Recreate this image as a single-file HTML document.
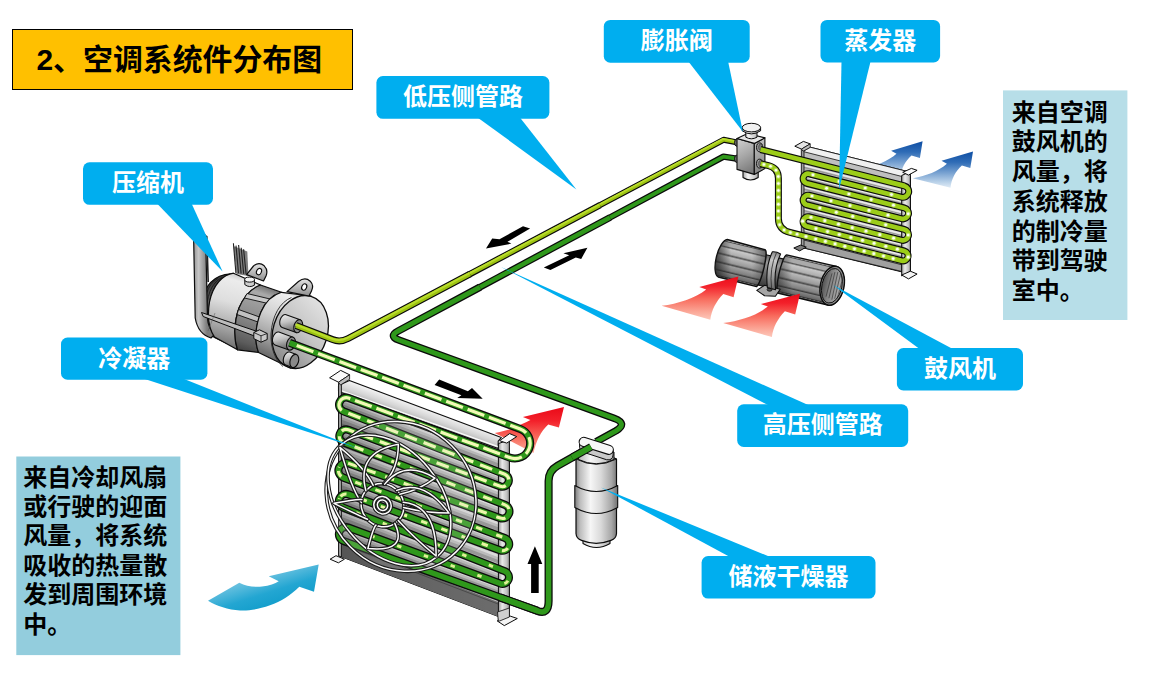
<!DOCTYPE html>
<html lang="zh-CN"><head><meta charset="utf-8"><title>空调系统件分布图</title>
<style>
html,body{margin:0;padding:0;background:#fff}
body{width:1168px;height:675px;position:relative;overflow:hidden;font-family:"Liberation Sans","Noto Sans CJK SC",sans-serif}
svg{position:absolute;left:0;top:0;display:block}
.t{position:absolute;color:#000;font-weight:bold;white-space:nowrap;overflow:hidden;font-family:"Liberation Sans","Noto Sans CJK SC",sans-serif}
</style></head><body>
<svg width="1168" height="675" viewBox="0 0 1168 675" aria-hidden="true"><defs><linearGradient id="cbody" gradientUnits="userSpaceOnUse" x1="338" y1="0" x2="510" y2="0"><stop offset="0" stop-color="#7c7c7c"/><stop offset="0.3" stop-color="#929292"/><stop offset="0.7" stop-color="#b4b4b4"/><stop offset="0.92" stop-color="#c9c9c9"/><stop offset="1" stop-color="#b0b0b0"/></linearGradient><linearGradient id="cshade" gradientUnits="userSpaceOnUse" x1="338" y1="0" x2="500" y2="0"><stop offset="0" stop-color="#000" stop-opacity="0.22"/><stop offset="0.45" stop-color="#000" stop-opacity="0.08"/><stop offset="1" stop-color="#000" stop-opacity="0"/></linearGradient><linearGradient id="chead" gradientUnits="userSpaceOnUse" x1="352" y1="379" x2="347.5" y2="392"><stop offset="0" stop-color="#f6f6f6"/><stop offset="0.55" stop-color="#dadada"/><stop offset="1" stop-color="#b9b9b9"/></linearGradient><linearGradient id="chead2" gradientUnits="userSpaceOnUse" x1="420" y1="406" x2="415.2" y2="419.5"><stop offset="0" stop-color="#f4f4f4"/><stop offset="0.55" stop-color="#d6d6d6"/><stop offset="1" stop-color="#b4b4b4"/></linearGradient><linearGradient id="cpost" gradientUnits="userSpaceOnUse" x1="498" y1="0" x2="510" y2="0"><stop offset="0" stop-color="#8e8e8e"/><stop offset="0.35" stop-color="#e9e9e9"/><stop offset="0.7" stop-color="#c4c4c4"/><stop offset="1" stop-color="#8a8a8a"/></linearGradient><linearGradient id="red1" gradientUnits="userSpaceOnUse" x1="0" y1="407" x2="0" y2="462"><stop offset="0" stop-color="#ea0a18"/><stop offset="0.25" stop-color="#f3202a"/><stop offset="0.55" stop-color="#f86a5c"/><stop offset="0.82" stop-color="#fba898"/><stop offset="1" stop-color="#fdc6b8" stop-opacity="0.9"/></linearGradient><linearGradient id="dashfade" gradientUnits="userSpaceOnUse" x1="0" y1="380" x2="0" y2="600"><stop offset="0" stop-color="#f3fbb8"/><stop offset="0.45" stop-color="#f0f9b0"/><stop offset="0.62" stop-color="#d8ee8c"/><stop offset="0.8" stop-color="#b6dc62"/><stop offset="1" stop-color="#8fc844"/></linearGradient><clipPath id="cd1"><polygon points="280.0,330.0 545.0,330.0 545.0,478.5 280.0,380.4"/></clipPath><clipPath id="cd2"><polygon points="280.0,378.8 545.0,482.2 545.0,510.8 280.0,412.2"/></clipPath><clipPath id="cd3"><polygon points="280.0,410.1 545.0,512.5 545.0,542.1 280.0,446.3"/></clipPath><clipPath id="cd4"><polygon points="280.0,446.1 545.0,545.2 545.0,574.6 280.0,477.0"/></clipPath><clipPath id="cd5"><polygon points="280.0,474.9 545.0,579.2 545.0,607.8 280.0,510.2"/></clipPath><linearGradient id="pul" gradientUnits="userSpaceOnUse" x1="206" y1="285" x2="226" y2="340"><stop offset="0" stop-color="#3c3c3c"/><stop offset="0.5" stop-color="#777"/><stop offset="1" stop-color="#2e2e2e"/></linearGradient><linearGradient id="belt1" gradientUnits="userSpaceOnUse" x1="193" y1="0" x2="207" y2="0"><stop offset="0" stop-color="#8e8e8e"/><stop offset="0.4" stop-color="#c6c6c6"/><stop offset="1" stop-color="#7c7c7c"/></linearGradient><linearGradient id="cfront" gradientUnits="userSpaceOnUse" x1="236" y1="270" x2="214" y2="352"><stop offset="0" stop-color="#b9b9b9"/><stop offset="0.12" stop-color="#ececec"/><stop offset="0.38" stop-color="#dedede"/><stop offset="0.62" stop-color="#b4b4b4"/><stop offset="0.85" stop-color="#7e7e7e"/><stop offset="1" stop-color="#4a4a4a"/></linearGradient><linearGradient id="cmid" gradientUnits="userSpaceOnUse" x1="262" y1="282" x2="238" y2="352"><stop offset="0" stop-color="#5e5e5e"/><stop offset="0.15" stop-color="#a9a9a9"/><stop offset="0.5" stop-color="#8b8b8b"/><stop offset="0.85" stop-color="#5c5c5c"/><stop offset="1" stop-color="#3a3a3a"/></linearGradient><linearGradient id="crear" gradientUnits="userSpaceOnUse" x1="300" y1="290" x2="268" y2="366"><stop offset="0" stop-color="#9c9c9c"/><stop offset="0.12" stop-color="#efefef"/><stop offset="0.4" stop-color="#d2d2d2"/><stop offset="0.7" stop-color="#9c9c9c"/><stop offset="1" stop-color="#4e4e4e"/></linearGradient><linearGradient id="cface" gradientUnits="userSpaceOnUse" x1="318" y1="300" x2="285" y2="362"><stop offset="0" stop-color="#e2e2e2"/><stop offset="0.5" stop-color="#c4c4c4"/><stop offset="1" stop-color="#8e8e8e"/></linearGradient><linearGradient id="lug" gradientUnits="objectBoundingBox" x1="0" y1="0" x2="0" y2="1"><stop offset="0" stop-color="#e4e4e4"/><stop offset="1" stop-color="#8d8d8d"/></linearGradient><linearGradient id="portg" gradientUnits="objectBoundingBox" x1="0" y1="0" x2="0.25" y2="1"><stop offset="0" stop-color="#f0f0f0"/><stop offset="0.45" stop-color="#c4c4c4"/><stop offset="1" stop-color="#6c6c6c"/></linearGradient><linearGradient id="drg" gradientUnits="userSpaceOnUse" x1="575" y1="0" x2="618" y2="0"><stop offset="0" stop-color="#7d7d7d"/><stop offset="0.12" stop-color="#bdbdbd"/><stop offset="0.36" stop-color="#f6f6f6"/><stop offset="0.6" stop-color="#dadada"/><stop offset="0.85" stop-color="#a6a6a6"/><stop offset="1" stop-color="#6e6e6e"/></linearGradient><linearGradient id="vfront" gradientUnits="userSpaceOnUse" x1="737" y1="140" x2="756" y2="172"><stop offset="0" stop-color="#cfcfcf"/><stop offset="0.45" stop-color="#a8a8a8"/><stop offset="1" stop-color="#727272"/></linearGradient><linearGradient id="vside" gradientUnits="userSpaceOnUse" x1="754" y1="140" x2="765" y2="170"><stop offset="0" stop-color="#c2c2c2"/><stop offset="1" stop-color="#858585"/></linearGradient><linearGradient id="vcap" gradientUnits="userSpaceOnUse" x1="741" y1="0" x2="761" y2="0"><stop offset="0" stop-color="#8c8c8c"/><stop offset="0.35" stop-color="#f4f4f4"/><stop offset="0.7" stop-color="#c9c9c9"/><stop offset="1" stop-color="#7a7a7a"/></linearGradient><linearGradient id="ebody" gradientUnits="userSpaceOnUse" x1="802" y1="0" x2="911" y2="0"><stop offset="0" stop-color="#b0b0b0"/><stop offset="0.5" stop-color="#c4c4c4"/><stop offset="0.9" stop-color="#d2d2d2"/><stop offset="1" stop-color="#b2b2b2"/></linearGradient><linearGradient id="epost" gradientUnits="userSpaceOnUse" x1="901" y1="0" x2="911" y2="0"><stop offset="0" stop-color="#8e8e8e"/><stop offset="0.4" stop-color="#ececec"/><stop offset="0.75" stop-color="#c2c2c2"/><stop offset="1" stop-color="#8a8a8a"/></linearGradient><linearGradient id="bneck" gradientUnits="userSpaceOnUse" x1="775" y1="254" x2="768" y2="288"><stop offset="0" stop-color="#5a5a5a"/><stop offset="0.3" stop-color="#9a9a9a"/><stop offset="0.6" stop-color="#6c6c6c"/><stop offset="1" stop-color="#333"/></linearGradient><linearGradient id="bl1" gradientUnits="userSpaceOnUse" x1="741" y1="243" x2="731.8" y2="281"><stop offset="0.002" stop-color="#4e4e4e"/><stop offset="0.0089" stop-color="#9d9d9d"/><stop offset="0.0386" stop-color="#949494"/><stop offset="0.0475" stop-color="#4c4c4c"/><stop offset="0.0515" stop-color="#535353"/><stop offset="0.0745" stop-color="#aaaaaa"/><stop offset="0.1577" stop-color="#aaaaaa"/><stop offset="0.1863" stop-color="#585858"/><stop offset="0.1903" stop-color="#616161"/><stop offset="0.2243" stop-color="#c7c7c7"/><stop offset="0.3446" stop-color="#afafaf"/><stop offset="0.3867" stop-color="#565656"/><stop offset="0.3907" stop-color="#5e5e5e"/><stop offset="0.4288" stop-color="#b8b8b8"/><stop offset="0.5623" stop-color="#9a9a9a"/><stop offset="0.6093" stop-color="#4b4b4b"/><stop offset="0.6133" stop-color="#515151"/><stop offset="0.6473" stop-color="#9e9e9e"/><stop offset="0.7676" stop-color="#808080"/><stop offset="0.8097" stop-color="#3e3e3e"/><stop offset="0.8137" stop-color="#434343"/><stop offset="0.8367" stop-color="#828282"/><stop offset="0.92" stop-color="#6a6a6a"/><stop offset="0.9485" stop-color="#333333"/><stop offset="0.9525" stop-color="#383838"/><stop offset="0.9594" stop-color="#6e6e6e"/><stop offset="0.9891" stop-color="#606060"/><stop offset="0.998" stop-color="#2f2f2f"/></linearGradient><linearGradient id="blend" gradientUnits="userSpaceOnUse" x1="715" y1="0" x2="731" y2="0"><stop offset="0" stop-color="#222" stop-opacity="0.8"/><stop offset="1" stop-color="#222" stop-opacity="0"/></linearGradient><linearGradient id="blend2" gradientUnits="userSpaceOnUse" x1="752" y1="0" x2="767" y2="0"><stop offset="0" stop-color="#222" stop-opacity="0"/><stop offset="1" stop-color="#222" stop-opacity="0.55"/></linearGradient><linearGradient id="bl2" gradientUnits="userSpaceOnUse" x1="806" y1="259" x2="796.8" y2="298"><stop offset="0.002" stop-color="#4e4e4e"/><stop offset="0.0089" stop-color="#9d9d9d"/><stop offset="0.0386" stop-color="#949494"/><stop offset="0.0475" stop-color="#4c4c4c"/><stop offset="0.0515" stop-color="#535353"/><stop offset="0.0745" stop-color="#aaaaaa"/><stop offset="0.1577" stop-color="#aaaaaa"/><stop offset="0.1863" stop-color="#585858"/><stop offset="0.1903" stop-color="#616161"/><stop offset="0.2243" stop-color="#c7c7c7"/><stop offset="0.3446" stop-color="#afafaf"/><stop offset="0.3867" stop-color="#565656"/><stop offset="0.3907" stop-color="#5e5e5e"/><stop offset="0.4288" stop-color="#b8b8b8"/><stop offset="0.5623" stop-color="#9a9a9a"/><stop offset="0.6093" stop-color="#4b4b4b"/><stop offset="0.6133" stop-color="#515151"/><stop offset="0.6473" stop-color="#9e9e9e"/><stop offset="0.7676" stop-color="#808080"/><stop offset="0.8097" stop-color="#3e3e3e"/><stop offset="0.8137" stop-color="#434343"/><stop offset="0.8367" stop-color="#828282"/><stop offset="0.92" stop-color="#6a6a6a"/><stop offset="0.9485" stop-color="#333333"/><stop offset="0.9525" stop-color="#383838"/><stop offset="0.9594" stop-color="#6e6e6e"/><stop offset="0.9891" stop-color="#606060"/><stop offset="0.998" stop-color="#2f2f2f"/></linearGradient><linearGradient id="blend3" gradientUnits="userSpaceOnUse" x1="774" y1="0" x2="792" y2="0"><stop offset="0" stop-color="#222" stop-opacity="0.7"/><stop offset="1" stop-color="#222" stop-opacity="0"/></linearGradient><linearGradient id="bband" gradientUnits="userSpaceOnUse" x1="776" y1="250" x2="768" y2="292"><stop offset="0" stop-color="#7a7a7a"/><stop offset="0.25" stop-color="#c8c8c8"/><stop offset="0.6" stop-color="#9c9c9c"/><stop offset="1" stop-color="#5a5a5a"/></linearGradient><linearGradient id="bopen" gradientUnits="userSpaceOnUse" x1="821" y1="0" x2="843" y2="0"><stop offset="0" stop-color="#4a4a4a"/><stop offset="0.4" stop-color="#858585"/><stop offset="1" stop-color="#b4b4b4"/></linearGradient><linearGradient id="ra1" gradientUnits="userSpaceOnUse" x1="0" y1="276" x2="0" y2="321"><stop offset="0" stop-color="#ea0a18"/><stop offset="0.22" stop-color="#f3202a"/><stop offset="0.5" stop-color="#f86a5c"/><stop offset="0.8" stop-color="#fba898"/><stop offset="1" stop-color="#fdc6b8" stop-opacity="0.9"/></linearGradient><linearGradient id="ra2" gradientUnits="userSpaceOnUse" x1="0" y1="276" x2="0" y2="321"><stop offset="0" stop-color="#ea0a18"/><stop offset="0.22" stop-color="#f3202a"/><stop offset="0.5" stop-color="#f86a5c"/><stop offset="0.8" stop-color="#fba898"/><stop offset="1" stop-color="#fdc6b8" stop-opacity="0.9"/></linearGradient><linearGradient id="ba1" gradientUnits="userSpaceOnUse" x1="0" y1="141" x2="0" y2="178"><stop offset="0" stop-color="#0d4da3"/><stop offset="0.3" stop-color="#2f6cb6"/><stop offset="0.6" stop-color="#7ba4d2"/><stop offset="0.85" stop-color="#bdd4ea"/><stop offset="1" stop-color="#dbe8f4" stop-opacity="0.85"/></linearGradient><linearGradient id="ba2" gradientUnits="userSpaceOnUse" x1="0" y1="141" x2="0" y2="178"><stop offset="0" stop-color="#0d4da3"/><stop offset="0.3" stop-color="#2f6cb6"/><stop offset="0.6" stop-color="#7ba4d2"/><stop offset="0.85" stop-color="#bdd4ea"/><stop offset="1" stop-color="#dbe8f4" stop-opacity="0.85"/></linearGradient><linearGradient id="cy1" gradientUnits="userSpaceOnUse" x1="252" y1="562" x2="268" y2="612"><stop offset="0" stop-color="#b8dfef"/><stop offset="0.3" stop-color="#6cc2e0"/><stop offset="0.65" stop-color="#23a6d2"/><stop offset="1" stop-color="#0e9bc9"/></linearGradient></defs><rect width="1168" height="675" fill="#fff"/>
<polygon points="338.5,384.0 509.0,447.6 509.0,621.0 497.2,616.1 338.5,555.7" fill="url(#cbody)" stroke="#0c0c0c" stroke-width="1" stroke-linejoin="round" />
<polygon points="338.5,541.0 498.0,602.0 498.0,616.4 338.5,555.7" fill="#6c6c6c" stroke="none" stroke-width="0" stroke-linejoin="round" />
<path d="M338.5,543 L498,604" stroke="#444" stroke-width="0.8"/>
<path d="M340,399.8 L499,460.2" stroke="#dcdcdc" stroke-width="3.4"/>
<path d="M340,402.4 L499,462.8" stroke="#bdbdbd" stroke-width="3.4"/>
<path d="M340,405.0 L499,465.4" stroke="#9a9a9a" stroke-width="3.4"/>
<path d="M340,415.7 L499,476.4" stroke="#dcdcdc" stroke-width="3.4"/>
<path d="M340,418.3 L499,479.0" stroke="#bdbdbd" stroke-width="3.4"/>
<path d="M340,420.9 L499,481.6" stroke="#9a9a9a" stroke-width="3.4"/>
<path d="M340,431.3 L499,491.6" stroke="#dcdcdc" stroke-width="3.4"/>
<path d="M340,433.9 L499,494.2" stroke="#bdbdbd" stroke-width="3.4"/>
<path d="M340,436.5 L499,496.8" stroke="#9a9a9a" stroke-width="3.4"/>
<path d="M340,448.1 L499,507.5" stroke="#dcdcdc" stroke-width="3.4"/>
<path d="M340,450.7 L499,510.1" stroke="#bdbdbd" stroke-width="3.4"/>
<path d="M340,453.3 L499,512.7" stroke="#9a9a9a" stroke-width="3.4"/>
<path d="M340,465.7 L499,524.1" stroke="#dcdcdc" stroke-width="3.4"/>
<path d="M340,468.3 L499,526.7" stroke="#bdbdbd" stroke-width="3.4"/>
<path d="M340,470.9 L499,529.3" stroke="#9a9a9a" stroke-width="3.4"/>
<path d="M340,481.2 L499,540.2" stroke="#dcdcdc" stroke-width="3.4"/>
<path d="M340,483.8 L499,542.8" stroke="#bdbdbd" stroke-width="3.4"/>
<path d="M340,486.4 L499,545.4" stroke="#9a9a9a" stroke-width="3.4"/>
<path d="M340,496.2 L499,556.8" stroke="#dcdcdc" stroke-width="3.4"/>
<path d="M340,498.8 L499,559.4" stroke="#bdbdbd" stroke-width="3.4"/>
<path d="M340,501.4 L499,562.0" stroke="#9a9a9a" stroke-width="3.4"/>
<path d="M340,512.8 L499,573.4" stroke="#dcdcdc" stroke-width="3.4"/>
<path d="M340,515.4 L499,576.0" stroke="#bdbdbd" stroke-width="3.4"/>
<path d="M340,518.0 L499,578.6" stroke="#9a9a9a" stroke-width="3.4"/>
<path d="M340,529.5 L499,587.4" stroke="#dcdcdc" stroke-width="3.4"/>
<path d="M340,532.1 L499,590.0" stroke="#bdbdbd" stroke-width="3.4"/>
<path d="M340,534.7 L499,592.6" stroke="#9a9a9a" stroke-width="3.4"/>
<polygon points="338.5,384.0 499.0,443.6 499.0,616.8 338.5,555.7" fill="url(#cshade)" stroke="none" stroke-width="0" stroke-linejoin="round" />
<polygon points="338.5,391.6 338.5,385.6 349.4,380.6 501.3,437.6 498.2,441.2 498.2,448.4" fill="url(#chead2)" stroke="#0c0c0c" stroke-width="1.1" stroke-linejoin="round" />
<path d="M339.5,390.0 L498,446.6" stroke="#fbfbfb" stroke-width="1.3"/>
<polygon points="498.4,443.5 509.4,440.0 509.4,617.0 498.4,621.0" fill="url(#cpost)" stroke="#0c0c0c" stroke-width="1" stroke-linejoin="round" />
<polygon points="338.5,382.0 341.5,383.0 341.5,557.0 338.5,555.7" fill="#9a9a9a" stroke="#0c0c0c" stroke-width="0.8" stroke-linejoin="round" />
<polygon points="330.1,559.2 336.0,555.7 344.4,559.2 338.4,562.8" fill="#f4f4f4" stroke="#0c0c0c" stroke-width="1" stroke-linejoin="round" />
<polygon points="497.2,620.9 510.2,616.1 517.3,618.5 504.3,625.6" fill="#f4f4f4" stroke="#0c0c0c" stroke-width="1" stroke-linejoin="round" />
<polygon points="497.5,612.0 509.4,608.0 509.4,617.0 498.4,621.5" fill="#cfcfcf" stroke="#0c0c0c" stroke-width="0.8" stroke-linejoin="round" />
<polygon points="329.6,377.8 340.7,370.4 349.6,374.8 338.5,382.2" fill="#fafafa" stroke="#0c0c0c" stroke-width="1" stroke-linejoin="round" />
<polygon points="338.5,382.2 349.6,374.8 349.6,379.3 340.5,385.0" fill="#bdbdbd" stroke="#0c0c0c" stroke-width="0.8" stroke-linejoin="round" />
<path d="M494.8,433 C505,431.2 514.5,428.4 521.5,424.3 Q526.5,422.4 530.4,420.1 L522.9,416.9 L564,407.1 L558.9,427.6 L548.2,424.4 C541,431 536,441 533.5,453 Z" fill="url(#red1)" stroke="none" stroke-width="0" stroke-linejoin="round" />
<polygon points="499.6,440.7 509.6,433.6 516.7,436.6 506.7,443.1" fill="#fafafa" stroke="#0c0c0c" stroke-width="1" stroke-linejoin="round" />
<path d="M233.4,246 L247.3,251.5 L248.5,276 L236.5,274 Z" fill="#7e7e7e" stroke="none" stroke-width="0" stroke-linejoin="round" /><path d="M233.4,243.2 L235.9,273.0" stroke="#222" stroke-width="1.1"/><path d="M236.0,245.6 L238.5,273.3" stroke="#222" stroke-width="1.1"/><path d="M238.60000000000002,245.0 L241.10000000000002,273.6" stroke="#222" stroke-width="1.1"/><path d="M241.20000000000002,247.8 L243.70000000000002,273.9" stroke="#222" stroke-width="1.1"/><path d="M243.60000000000002,249.2 L246.10000000000002,274.2" stroke="#222" stroke-width="1.1"/><path d="M231,273.8 C214,274.5 203.5,286 202,304 C201,320 206,332 214.5,337.5 L226,343 L240,300 Z" fill="url(#pul)" stroke="#0c0c0c" stroke-width="1.2" stroke-linejoin="round" /><path d="M227.0,276.0 C215.0,281.0 209.0,295.0 208.6,312.0" fill="none" stroke="#1c1c1c" stroke-width="0.9" stroke-linejoin="round" /><path d="M222.5,277.2 C210.6,283.0 206.4,297.0 206.6,314.0" fill="none" stroke="#1c1c1c" stroke-width="0.9" stroke-linejoin="round" /><path d="M218.0,278.4 C206.2,285.0 203.8,299.0 204.6,316.0" fill="none" stroke="#1c1c1c" stroke-width="0.9" stroke-linejoin="round" /><path d="M193.6,236.5 L205.6,235 L207,296 L207.5,318 Q208,329 215,334 L211,338 Q198,334 195.2,318 Z" fill="url(#belt1)" stroke="#0c0c0c" stroke-width="1.2" stroke-linejoin="round" /><path d="M204.6,236 L206.8,236.5 L208.2,282" fill="none" stroke="#222" stroke-width="1.6" stroke-linejoin="round" /><path d="M233.5,273.2 C223,274.5 213,285 209.5,302 C207.2,316 209,329 214.5,337 L237.5,349.8 C233.5,338 234,322 239,308 C244,296 251,288.5 260.5,285 Z" fill="url(#cfront)" stroke="#0c0c0c" stroke-width="1.2" stroke-linejoin="round" /><path d="M260.5,285 C251,288.5 244,296 239,308 C234,322 233.5,338 237.5,349.8 L258.5,352.5 C254,341 255.5,325 261,312 C266,300.5 272.5,295 281.5,292.3 Z" fill="url(#cmid)" stroke="#0c0c0c" stroke-width="1.2" stroke-linejoin="round" /><path d="M247,293.5 L270,299 L268,303.5 L244.5,298 Z" fill="#c9c9c9" stroke="#0c0c0c" stroke-width="0.9" stroke-linejoin="round" /><path d="M238.5,309.5 L259.5,317 L258,322 L237,314.5 Z" fill="#c2c2c2" stroke="#0c0c0c" stroke-width="0.9" stroke-linejoin="round" /><path d="M281.5,292.3 C272.5,295 266,300.5 261,312 C255.5,325 254,341 258.5,352.5 L291,368.2 L311,296 Z" fill="url(#crear)" stroke="#0c0c0c" stroke-width="1.2" stroke-linejoin="round" /><ellipse cx="300.2" cy="332" rx="27.2" ry="37.2" transform="rotate(17 300.2 332)" fill="url(#cface)" stroke="#0c0c0c" stroke-width="1.3"/><path d="M291.5,297.5 C280,302 272,316 271,334 C270.5,348 275,360 283,366.5" fill="none" stroke="#2a2a2a" stroke-width="0.9"/><path d="M246.6,274.6 L253.5,266 Q259,261.5 264.2,265.8 Q268.4,270 266,276 L263.5,281 Z" fill="url(#lug)" stroke="#0c0c0c" stroke-width="1.2" stroke-linejoin="round" /><ellipse cx="259" cy="271.6" rx="2.4" ry="3.3" transform="rotate(25 259 271.6)" fill="#fff" stroke="#0c0c0c" stroke-width="1.1"/><path d="M287,291.6 L298.5,281.5 Q305,276.5 310.2,281.2 Q314.2,285.5 311.5,291 L309,296 Z" fill="url(#lug)" stroke="#0c0c0c" stroke-width="1.2" stroke-linejoin="round" /><ellipse cx="304.2" cy="287" rx="2.4" ry="3.3" transform="rotate(25 304.2 287)" fill="#fff" stroke="#0c0c0c" stroke-width="1.1"/><path d="M244.8,279.5 L244.8,284.6 Q249.5,288.2 254.4,285.2 L254.4,280 Z" fill="#cfcfcf" stroke="#0c0c0c" stroke-width="1" stroke-linejoin="round" /><ellipse cx="249.6" cy="279.6" rx="4.9" ry="2.5" fill="#f3f3f3" stroke="#0c0c0c" stroke-width="1"/><path d="M201.5,312.5 L203.2,316.5 L254.5,336 L255.8,331 Z" fill="#bdbdbd" stroke="#0c0c0c" stroke-width="1" stroke-linejoin="round" /><path d="M253.8,332.5 L259.5,329.8 L267.2,333.5 L267.2,339.5 L261,342.2 L253.8,338.6 Z" fill="#c9c9c9" stroke="#0c0c0c" stroke-width="1" stroke-linejoin="round" /><path d="M253.8,332.5 L261,335.8 L267.2,333.5 M261,335.8 L261,342.2" fill="none" stroke="#0c0c0c" stroke-width="0.8" stroke-linejoin="round" /><path d="M215,313 L208,331" fill="none" stroke="#555" stroke-width="0.5" stroke-linejoin="round" />
<path d="M286.1,314.7 L300.2,319.8 L296.2,332.6 L282.1,327.5 A4.2,6.7 17 0 1 286.1,314.7 Z" fill="url(#portg)" stroke="#0c0c0c" stroke-width="1.1" stroke-linejoin="round" /><ellipse cx="298.2" cy="326.2" rx="4.2" ry="6.7" transform="rotate(17 298.2 326.2)" fill="#8a8a8a" stroke="#0c0c0c" stroke-width="1.1"/><path d="M278.9,332.1 L293.0,337.2 L289.0,350.0 L274.9,344.9 A4.2,6.7 17 0 1 278.9,332.1 Z" fill="url(#portg)" stroke="#0c0c0c" stroke-width="1.1" stroke-linejoin="round" /><ellipse cx="291" cy="343.6" rx="4.2" ry="6.7" transform="rotate(17 291 343.6)" fill="#8a8a8a" stroke="#0c0c0c" stroke-width="1.1"/><path d="M289.8,352.1 L296.3,354.5 L292.3,367.5 L285.7,365.1 A4.2,6.8 17 0 1 289.8,352.1 Z" fill="url(#portg)" stroke="#0c0c0c" stroke-width="1.1" stroke-linejoin="round" /><ellipse cx="294.3" cy="361" rx="4.2" ry="6.8" transform="rotate(17 294.3 361)" fill="#8a8a8a" stroke="#0c0c0c" stroke-width="1.1"/>
<path d="M500,597.35 L537,610.67 Q548.6,615.49 548.6,601 L548.6,481 Q548.6,470.8 557.5,465.8 L590,447.5" fill="none" stroke="#0c0c0c" stroke-width="8.1" stroke-linejoin="round"/>
<path d="M289.6,342.8 L520.20,428.94 A15.26,15.26 0 0 1 509.58,457.56 L348.54,397.98 A7.15,7.15 0 0 0 343.46,411.34 L504.89,474.34 A6.43,6.43 0 0 1 500.31,486.35 L348.40,429.83 A6.78,6.78 0 0 0 343.60,442.51 L505.07,504.89 A7.05,7.05 0 0 1 500.13,518.09 L348.62,463.34 A7.60,7.60 0 0 0 343.38,477.61 L504.90,537.97 A6.60,6.60 0 0 1 500.30,550.35 L348.53,494.42 A7.10,7.10 0 0 0 343.47,507.69 L504.94,571.27 A6.57,6.57 0 0 1 500.26,583.54 L348.44,527.59 A7.14,7.14 0 0 0 343.56,541.01 L538,611.03" fill="none" stroke="#0c0c0c" stroke-width="8.1" stroke-linejoin="round"/>
<path d="M500,597.35 L537,610.67 Q548.6,615.49 548.6,601 L548.6,481 Q548.6,470.8 557.5,465.8 L590,447.5" fill="none" stroke="#2f981b" stroke-width="5.5" stroke-linejoin="round"/>
<path d="M289.6,342.8 L520.20,428.94 A15.26,15.26 0 0 1 509.58,457.56 L348.54,397.98 A7.15,7.15 0 0 0 343.46,411.34 L504.89,474.34 A6.43,6.43 0 0 1 500.31,486.35 L348.40,429.83 A6.78,6.78 0 0 0 343.60,442.51 L505.07,504.89 A7.05,7.05 0 0 1 500.13,518.09 L348.62,463.34 A7.60,7.60 0 0 0 343.38,477.61 L504.90,537.97 A6.60,6.60 0 0 1 500.30,550.35 L348.53,494.42 A7.10,7.10 0 0 0 343.47,507.69 L504.94,571.27 A6.57,6.57 0 0 1 500.26,583.54 L348.44,527.59 A7.14,7.14 0 0 0 343.56,541.01 L538,611.03" fill="none" stroke="#2f981b" stroke-width="5.5" stroke-linejoin="round"/>
<path d="M296.7,345.44 L520.20,428.94 A15.26,15.26 0 0 1 509.58,457.56 L348.54,397.98 A7.15,7.15 0 0 0 343.46,411.34 L504.89,474.34 A6.43,6.43 0 0 1 500.31,486.35 L348.40,429.83 A6.78,6.78 0 0 0 343.60,442.51 L505.07,504.89 A7.05,7.05 0 0 1 500.13,518.09 L348.62,463.34 A7.60,7.60 0 0 0 343.38,477.61 L504.90,537.97 A6.60,6.60 0 0 1 500.30,550.35 L348.53,494.42 A7.10,7.10 0 0 0 343.47,507.69 L504.94,571.27 A6.57,6.57 0 0 1 500.26,583.54 L348.44,527.59 A7.14,7.14 0 0 0 343.56,541.01 L538,611.03" fill="none" stroke="#f2fab6" stroke-width="3.2" stroke-dasharray="17.8 5" clip-path="url(#cd1)"/>
<path d="M296.7,345.44 L520.20,428.94 A15.26,15.26 0 0 1 509.58,457.56 L348.54,397.98 A7.15,7.15 0 0 0 343.46,411.34 L504.89,474.34 A6.43,6.43 0 0 1 500.31,486.35 L348.40,429.83 A6.78,6.78 0 0 0 343.60,442.51 L505.07,504.89 A7.05,7.05 0 0 1 500.13,518.09 L348.62,463.34 A7.60,7.60 0 0 0 343.38,477.61 L504.90,537.97 A6.60,6.60 0 0 1 500.30,550.35 L348.53,494.42 A7.10,7.10 0 0 0 343.47,507.69 L504.94,571.27 A6.57,6.57 0 0 1 500.26,583.54 L348.44,527.59 A7.14,7.14 0 0 0 343.56,541.01 L538,611.03" fill="none" stroke="#f0f9b2" stroke-width="3.2" stroke-dasharray="13 7.2" clip-path="url(#cd2)"/>
<path d="M296.7,345.44 L520.20,428.94 A15.26,15.26 0 0 1 509.58,457.56 L348.54,397.98 A7.15,7.15 0 0 0 343.46,411.34 L504.89,474.34 A6.43,6.43 0 0 1 500.31,486.35 L348.40,429.83 A6.78,6.78 0 0 0 343.60,442.51 L505.07,504.89 A7.05,7.05 0 0 1 500.13,518.09 L348.62,463.34 A7.60,7.60 0 0 0 343.38,477.61 L504.90,537.97 A6.60,6.60 0 0 1 500.30,550.35 L348.53,494.42 A7.10,7.10 0 0 0 343.47,507.69 L504.94,571.27 A6.57,6.57 0 0 1 500.26,583.54 L348.44,527.59 A7.14,7.14 0 0 0 343.56,541.01 L538,611.03" fill="none" stroke="#ecf7ac" stroke-width="3.1" stroke-dasharray="9.5 10.2" clip-path="url(#cd3)"/>
<path d="M296.7,345.44 L520.20,428.94 A15.26,15.26 0 0 1 509.58,457.56 L348.54,397.98 A7.15,7.15 0 0 0 343.46,411.34 L504.89,474.34 A6.43,6.43 0 0 1 500.31,486.35 L348.40,429.83 A6.78,6.78 0 0 0 343.60,442.51 L505.07,504.89 A7.05,7.05 0 0 1 500.13,518.09 L348.62,463.34 A7.60,7.60 0 0 0 343.38,477.61 L504.90,537.97 A6.60,6.60 0 0 1 500.30,550.35 L348.53,494.42 A7.10,7.10 0 0 0 343.47,507.69 L504.94,571.27 A6.57,6.57 0 0 1 500.26,583.54 L348.44,527.59 A7.14,7.14 0 0 0 343.56,541.01 L538,611.03" fill="none" stroke="#e6f5a2" stroke-width="3.0" stroke-dasharray="6.5 15" clip-path="url(#cd4)"/>
<path d="M296.7,345.44 L520.20,428.94 A15.26,15.26 0 0 1 509.58,457.56 L348.54,397.98 A7.15,7.15 0 0 0 343.46,411.34 L504.89,474.34 A6.43,6.43 0 0 1 500.31,486.35 L348.40,429.83 A6.78,6.78 0 0 0 343.60,442.51 L505.07,504.89 A7.05,7.05 0 0 1 500.13,518.09 L348.62,463.34 A7.60,7.60 0 0 0 343.38,477.61 L504.90,537.97 A6.60,6.60 0 0 1 500.30,550.35 L348.53,494.42 A7.10,7.10 0 0 0 343.47,507.69 L504.94,571.27 A6.57,6.57 0 0 1 500.26,583.54 L348.44,527.59 A7.14,7.14 0 0 0 343.56,541.01 L538,611.03" fill="none" stroke="#dff296" stroke-width="2.9" stroke-dasharray="4.5 24" clip-path="url(#cd5)"/>
<path d="M456.33,551.63 A78.1,71.6 45 1 1 345.87,441.17 A78.1,71.6 45 1 1 456.33,551.63 Z M436.77,556.86 A73.7,50.7 50 1 1 342.03,443.94 A73.7,50.7 50 1 1 436.77,556.86 Z" fill="#d8d8d8" fill-opacity="0.16" fill-rule="evenodd"/>
<path d="M456.33,551.63 A78.1,71.6 45 1 1 345.87,441.17 A78.1,71.6 45 1 1 456.33,551.63 Z" fill="none" stroke="#1c1c1c" stroke-width="3.7" stroke-linecap="round" stroke-linejoin="round" /><path d="M456.33,551.63 A78.1,71.6 45 1 1 345.87,441.17 A78.1,71.6 45 1 1 456.33,551.63 Z" fill="none" stroke="#fdfdfd" stroke-width="1.5" stroke-linecap="round" stroke-linejoin="round" />
<path d="M436.77,556.86 A73.7,50.7 50 1 1 342.03,443.94 A73.7,50.7 50 1 1 436.77,556.86 Z" fill="none" stroke="#1c1c1c" stroke-width="3.7" stroke-linecap="round" stroke-linejoin="round" /><path d="M436.77,556.86 A73.7,50.7 50 1 1 342.03,443.94 A73.7,50.7 50 1 1 436.77,556.86 Z" fill="none" stroke="#fdfdfd" stroke-width="1.5" stroke-linecap="round" stroke-linejoin="round" />
<path d="M396.64,522.05 A22,20.5 50 1 1 368.36,488.35 A22,20.5 50 1 1 396.64,522.05 Z" fill="none" stroke="#1c1c1c" stroke-width="3.7" stroke-linecap="round" stroke-linejoin="round" /><path d="M396.64,522.05 A22,20.5 50 1 1 368.36,488.35 A22,20.5 50 1 1 396.64,522.05 Z" fill="none" stroke="#fdfdfd" stroke-width="1.5" stroke-linecap="round" stroke-linejoin="round" />
<path d="M388.29,512.09 A9,8.4 50 1 1 376.71,498.31 A9,8.4 50 1 1 388.29,512.09 Z" fill="none" stroke="#1c1c1c" stroke-width="3.7" stroke-linecap="round" stroke-linejoin="round" /><path d="M388.29,512.09 A9,8.4 50 1 1 376.71,498.31 A9,8.4 50 1 1 388.29,512.09 Z" fill="none" stroke="#fdfdfd" stroke-width="1.5" stroke-linecap="round" stroke-linejoin="round" />
<path d="M385.97,509.34 A5.4,5 50 1 1 379.03,501.06 A5.4,5 50 1 1 385.97,509.34 Z" fill="none" stroke="#1c1c1c" stroke-width="3.7" stroke-linecap="round" stroke-linejoin="round" /><path d="M385.97,509.34 A5.4,5 50 1 1 379.03,501.06 A5.4,5 50 1 1 385.97,509.34 Z" fill="none" stroke="#fdfdfd" stroke-width="1.5" stroke-linecap="round" stroke-linejoin="round" />
<path d="M361.4,502.6 Q351.5,488.9 339.9,447.4 Q365.1,468.1 373.2,485.4" fill="none" stroke="#1c1c1c" stroke-width="3.7" stroke-linecap="round" stroke-linejoin="round" /><path d="M361.4,502.6 Q351.5,488.9 339.9,447.4 Q365.1,468.1 373.2,485.4" fill="none" stroke="#fdfdfd" stroke-width="1.5" stroke-linecap="round" stroke-linejoin="round" />
<path d="M365.9,490.8 Q355.7,452.3 398.3,444.3 Q398.6,468.4 383.6,484.0" fill="none" stroke="#1c1c1c" stroke-width="3.7" stroke-linecap="round" stroke-linejoin="round" /><path d="M365.9,490.8 Q355.7,452.3 398.3,444.3 Q398.6,468.4 383.6,484.0" fill="none" stroke="#fdfdfd" stroke-width="1.5" stroke-linecap="round" stroke-linejoin="round" />
<path d="M384.7,484.1 Q404.3,459.5 435.0,478.1 Q419.2,490.1 399.9,494.3" fill="none" stroke="#1c1c1c" stroke-width="3.7" stroke-linecap="round" stroke-linejoin="round" /><path d="M384.7,484.1 Q404.3,459.5 435.0,478.1 Q419.2,490.1 399.9,494.3" fill="none" stroke="#fdfdfd" stroke-width="1.5" stroke-linecap="round" stroke-linejoin="round" />
<path d="M396.7,490.4 Q424.0,478.8 449.0,513.1 Q426.1,513.1 403.6,507.4" fill="none" stroke="#1c1c1c" stroke-width="3.7" stroke-linecap="round" stroke-linejoin="round" /><path d="M396.7,490.4 Q424.0,478.8 449.0,513.1 Q426.1,513.1 403.6,507.4" fill="none" stroke="#fdfdfd" stroke-width="1.5" stroke-linecap="round" stroke-linejoin="round" />
<path d="M403.2,502.3 Q436.7,505.4 436.1,556.0 Q413.3,537.2 398.3,520.5" fill="none" stroke="#1c1c1c" stroke-width="3.7" stroke-linecap="round" stroke-linejoin="round" /><path d="M403.2,502.3 Q436.7,505.4 436.1,556.0 Q413.3,537.2 398.3,520.5" fill="none" stroke="#fdfdfd" stroke-width="1.5" stroke-linecap="round" stroke-linejoin="round" />
<path d="M394.8,523.4 Q408.4,552.5 367.9,548.5 Q373.3,527.2 376.0,525.1" fill="none" stroke="#1c1c1c" stroke-width="3.7" stroke-linecap="round" stroke-linejoin="round" /><path d="M394.8,523.4 Q408.4,552.5 367.9,548.5 Q373.3,527.2 376.0,525.1" fill="none" stroke="#fdfdfd" stroke-width="1.5" stroke-linecap="round" stroke-linejoin="round" />
<path d="M367.5,519.2 Q362.9,517.6 334.0,503.3 Q357.3,498.7 361.8,499.6" fill="none" stroke="#1c1c1c" stroke-width="3.7" stroke-linecap="round" stroke-linejoin="round" /><path d="M367.5,519.2 Q362.9,517.6 334.0,503.3 Q357.3,498.7 361.8,499.6" fill="none" stroke="#fdfdfd" stroke-width="1.5" stroke-linecap="round" stroke-linejoin="round" />
<path d="M599,205.72 L723.5,139.8 L738,142.6" fill="none" stroke="#0a0a0a" stroke-width="6.0" stroke-linejoin="round" stroke-linecap="butt"/><path d="M599,205.72 L723.5,139.8 L738,142.6" fill="none" stroke="#9cc312" stroke-width="3.6" stroke-linejoin="round" stroke-linecap="butt"/><path d="M599,205.72 L723.5,139.8 L738,142.6" fill="none" stroke="#b9dc2c" stroke-width="1.80" transform="translate(-0.45,-0.9)" stroke-linejoin="round"/>
<path d="M469,274.54 L600,205.19" fill="none" stroke="#0a0a0a" stroke-width="6.5" stroke-linejoin="round" stroke-linecap="butt"/><path d="M469,274.54 L600,205.19" fill="none" stroke="#9cc312" stroke-width="4.1" stroke-linejoin="round" stroke-linecap="butt"/><path d="M469,274.54 L600,205.19" fill="none" stroke="#b9dc2c" stroke-width="1.95" transform="translate(-0.45,-0.9)" stroke-linejoin="round"/>
<path d="M296,325.5 L332.6,339.6 Q340.3,342.7 348.2,338.5 L470,274.01" fill="none" stroke="#0a0a0a" stroke-width="7.0" stroke-linejoin="round" stroke-linecap="butt"/><path d="M296,325.5 L332.6,339.6 Q340.3,342.7 348.2,338.5 L470,274.01" fill="none" stroke="#9cc312" stroke-width="4.6" stroke-linejoin="round" stroke-linecap="butt"/><path d="M296,325.5 L332.6,339.6 Q340.3,342.7 348.2,338.5 L470,274.01" fill="none" stroke="#b9dc2c" stroke-width="2.10" transform="translate(-0.45,-0.9)" stroke-linejoin="round"/>
<path d="M738,158.8 L723.5,156.6 L609,217.99" fill="none" stroke="#0a0a0a" stroke-width="6.3" stroke-linejoin="round" stroke-linecap="butt"/><path d="M738,158.8 L723.5,156.6 L609,217.99" fill="none" stroke="#2f981b" stroke-width="3.9" stroke-linejoin="round" stroke-linecap="butt"/>
<path d="M610,217.45 L479,287.68" fill="none" stroke="#0a0a0a" stroke-width="6.9" stroke-linejoin="round" stroke-linecap="butt"/><path d="M610,217.45 L479,287.68" fill="none" stroke="#2f981b" stroke-width="4.4" stroke-linejoin="round" stroke-linecap="butt"/>
<path d="M480,287.15 L398.2,331 Q388.4,336.3 398.8,340 L614,418.2 Q628,423.4 616,430.8 L596,441.8" fill="none" stroke="#0a0a0a" stroke-width="7.5" stroke-linejoin="round" stroke-linecap="butt"/><path d="M480,287.15 L398.2,331 Q388.4,336.3 398.8,340 L614,418.2 Q628,423.4 616,430.8 L596,441.8" fill="none" stroke="#2f981b" stroke-width="4.9" stroke-linejoin="round" stroke-linecap="butt"/>
<path d="M583,538 L583,543.5 Q596.5,551.5 610,543.5 L610,538 Z" fill="url(#drg)" stroke="#0c0c0c" stroke-width="1.1" stroke-linejoin="round" /><path d="M576,459 L576,533.5 Q576.3,538.6 581.5,540.4 Q596.2,546.2 611,540.4 Q616.2,538.6 616.5,533.5 L616.5,459 Q596.2,449 576,459 Z" fill="url(#drg)" stroke="#0c0c0c" stroke-width="1.2" stroke-linejoin="round" /><path d="M574.8,485.5 Q596.2,497.5 617.7,485.5 L617.7,507.5 Q596.2,519.5 574.8,507.5 Z" fill="url(#drg)" stroke="#0c0c0c" stroke-width="1.1" stroke-linejoin="round" /><path d="M578.5,452 L578.5,459.5 Q596.2,468 614,459.5 L614,452 Z" fill="url(#drg)" stroke="#0c0c0c" stroke-width="1.0" stroke-linejoin="round" /><path d="M576,459 Q596.2,469.5 616.5,459" fill="none" stroke="#0c0c0c" stroke-width="0.9" stroke-linejoin="round" />
<path d="M579.6,443.2 L579.6,447.2 Q580,451 584.5,452.6 L606.5,459.7 Q612.5,460.8 613.1,455 L613.1,450.5 Z" fill="#c9c9c9" stroke="#0c0c0c" stroke-width="1.0" stroke-linejoin="round" /><path d="M583.7,441.9 L608.8,449.8" stroke="#0c0c0c" stroke-width="10.2" stroke-linecap="round"/><path d="M583.7,441.9 L608.8,449.8" stroke="#f7f7f7" stroke-width="8" stroke-linecap="round"/>
<path d="M591,446.9 L572,457.6" fill="none" stroke="#0a0a0a" stroke-width="7.7" stroke-linejoin="round" stroke-linecap="butt"/><path d="M591,446.9 L572,457.6" fill="none" stroke="#2f981b" stroke-width="5.7" stroke-linejoin="round" stroke-linecap="butt"/>
<path d="M743,171 L743,177.5 Q750.5,182.5 758.2,177.5 L758.2,171 Z" fill="url(#vcap)" stroke="#0c0c0c" stroke-width="1.1" stroke-linejoin="round" /><ellipse cx="736.6" cy="142.6" rx="2" ry="3.6" fill="#777" stroke="#0c0c0c" stroke-width="1"/><ellipse cx="736.6" cy="158.8" rx="2" ry="3.6" fill="#777" stroke="#0c0c0c" stroke-width="1"/><polygon points="737.0,138.5 754.3,143.4 754.3,174.4 737.0,169.4" fill="url(#vfront)" stroke="#0c0c0c" stroke-width="1.1" stroke-linejoin="round" /><polygon points="754.3,143.4 764.9,137.8 764.9,168.6 754.3,174.4" fill="url(#vside)" stroke="#0c0c0c" stroke-width="1.1" stroke-linejoin="round" /><polygon points="737.0,138.5 747.6,133.5 764.9,137.8 754.3,143.4" fill="#e6e6e6" stroke="#0c0c0c" stroke-width="1.1" stroke-linejoin="round" /><path d="M745.8,130 L745.8,137.2 Q751.4,140.4 757,137.2 L757,130 Z" fill="url(#vcap)" stroke="#0c0c0c" stroke-width="1.0" stroke-linejoin="round" /><path d="M742.2,127.5 L742.2,130.8 Q751.4,137 760.6,130.8 L760.6,127.5 Z" fill="url(#vcap)" stroke="#0c0c0c" stroke-width="1.0" stroke-linejoin="round" /><ellipse cx="751.4" cy="127.6" rx="9.2" ry="4.3" fill="#f1f1f1" stroke="#0c0c0c" stroke-width="1"/><ellipse cx="759.6" cy="147.3" rx="3.0" ry="4.4" fill="#a6a6a6" stroke="#0c0c0c" stroke-width="1"/><ellipse cx="760.6" cy="147.3" rx="2.0" ry="3.3" fill="#7a7a7a" stroke="#333" stroke-width="0.6"/><ellipse cx="759.6" cy="163.6" rx="3.0" ry="4.4" fill="#a6a6a6" stroke="#0c0c0c" stroke-width="1"/><ellipse cx="760.6" cy="163.6" rx="2.0" ry="3.3" fill="#7a7a7a" stroke="#333" stroke-width="0.6"/>
<path d="M862.4,168.1 C876,166 888,161 896.5,153.7 L891.1,150.7 L922.6,141.3 L919.9,157.9 L911.5,155.5 C905,161.5 901,169 900.1,177.6 Z" transform="translate(0 0)" fill="url(#ba1)"/>
<path d="M862.4,168.1 C876,166 888,161 896.5,153.7 L891.1,150.7 L922.6,141.3 L919.9,157.9 L911.5,155.5 C905,161.5 901,169 900.1,177.6 Z" transform="translate(50.4 10.1)" fill="url(#ba2)"/>
<polygon points="802.0,150.5 910.4,176.5 910.4,274.0 802.0,247.5" fill="url(#ebody)" stroke="#0c0c0c" stroke-width="1" stroke-linejoin="round" /><path d="M803,165.3 L902,190.4" stroke="#ececec" stroke-width="1.4"/><path d="M803,167.2 L902,192.3" stroke="#8c8c8c" stroke-width="0.9"/><path d="M803,176.4 L902,201.4" stroke="#ececec" stroke-width="1.4"/><path d="M803,178.3 L902,203.3" stroke="#8c8c8c" stroke-width="0.9"/><path d="M803,187.1 L902,212.2" stroke="#ececec" stroke-width="1.4"/><path d="M803,189.0 L902,214.1" stroke="#8c8c8c" stroke-width="0.9"/><path d="M803,197.9 L902,222.9" stroke="#ececec" stroke-width="1.4"/><path d="M803,199.8 L902,224.8" stroke="#8c8c8c" stroke-width="0.9"/><path d="M803,208.6 L902,233.7" stroke="#ececec" stroke-width="1.4"/><path d="M803,210.5 L902,235.6" stroke="#8c8c8c" stroke-width="0.9"/><path d="M803,219.4 L902,244.4" stroke="#ececec" stroke-width="1.4"/><path d="M803,221.3 L902,246.3" stroke="#8c8c8c" stroke-width="0.9"/><path d="M803,229.6 L902,254.7" stroke="#ececec" stroke-width="1.4"/><path d="M803,231.5 L902,256.6" stroke="#8c8c8c" stroke-width="0.9"/><polygon points="802.0,239.5 902.0,264.8 902.0,271.5 802.0,247.5" fill="#a0a0a0" stroke="#0c0c0c" stroke-width="0.8" stroke-linejoin="round" /><polygon points="803.0,151.5 810.2,147.2 908.8,171.8 902.0,176.5 902.0,183.6 803.0,158.6" fill="#bfbfbf" stroke="#0c0c0c" stroke-width="0.9" stroke-linejoin="round" /><polygon points="803.0,151.5 810.2,147.2 908.8,171.8 902.0,176.5" fill="#f0f0f0" stroke="#0c0c0c" stroke-width="0.8" stroke-linejoin="round" /><polygon points="901.7,175.5 910.4,171.5 910.4,271.5 901.7,276.0" fill="url(#epost)" stroke="#0c0c0c" stroke-width="1" stroke-linejoin="round" /><polygon points="801.3,149.0 804.0,150.0 804.0,248.5 801.3,247.5" fill="#9c9c9c" stroke="#0c0c0c" stroke-width="0.8" stroke-linejoin="round" /><polygon points="794.8,146.2 803.4,141.4 810.2,143.9 801.5,149.1" fill="#e4e4e4" stroke="#0c0c0c" stroke-width="1" stroke-linejoin="round" /><polygon points="801.5,149.1 810.2,143.9 810.2,147.4 803.0,151.2" fill="#bdbdbd" stroke="#0c0c0c" stroke-width="0.8" stroke-linejoin="round" /><polygon points="902.7,172.3 911.4,168.4 917.1,170.3 908.5,175.1" fill="#fafafa" stroke="#0c0c0c" stroke-width="1" stroke-linejoin="round" /><polygon points="793.8,248.0 800.6,245.1 806.3,247.1 799.6,250.9" fill="#7c7c7c" stroke="#0c0c0c" stroke-width="1" stroke-linejoin="round" /><polygon points="901.7,275.0 910.4,271.2 917.1,274.0 908.5,278.9" fill="#f4f4f4" stroke="#0c0c0c" stroke-width="1" stroke-linejoin="round" />
<path d="M760.5,149.49 L904.43,185.90 A5.82,5.82 0 0 1 901.57,197.18 L809.00,173.76 A4.90,4.90 0 0 0 806.60,183.25 L904.36,207.98 A5.53,5.53 0 0 1 901.64,218.70 L809.00,195.26 A4.90,4.90 0 0 0 806.60,204.75 L904.36,229.48 A5.53,5.53 0 0 1 901.64,240.20 L809.00,216.76 A4.90,4.90 0 0 0 806.60,226.25 L904.24,250.95 A5.04,5.04 0 0 1 901.76,260.73 L790,232.45 Q778.4,229.52 778.4,218.5 L778.4,178.5 Q778.4,168 768.5,165.6 L760.5,163.7" fill="none" stroke="#0c0c0c" stroke-width="7.0" stroke-linejoin="round"/>
<path d="M760.5,149.49 L904.43,185.90 A5.82,5.82 0 0 1 901.57,197.18 L809.00,173.76 A4.90,4.90 0 0 0 806.60,183.25 L904.36,207.98 A5.53,5.53 0 0 1 901.64,218.70 L809.00,195.26 A4.90,4.90 0 0 0 806.60,204.75 L904.36,229.48 A5.53,5.53 0 0 1 901.64,240.20 L809.00,216.76 A4.90,4.90 0 0 0 806.60,226.25 L904.24,250.95 A5.04,5.04 0 0 1 901.76,260.73 L790,232.45 Q778.4,229.52 778.4,218.5 L778.4,178.5 Q778.4,168 768.5,165.6 L760.5,163.7" fill="none" stroke="#9ccd19" stroke-width="4.7" stroke-linejoin="round"/>
<circle cx="813.0" cy="174.8" r="2.35" fill="#d9f3a0" opacity="0.55"/><circle cx="813.0" cy="174.8" r="1.35" fill="#fcfff4"/><circle cx="839.2" cy="181.4" r="2.35" fill="#d9f3a0" opacity="0.55"/><circle cx="839.2" cy="181.4" r="1.35" fill="#fcfff4"/><circle cx="865.3" cy="188.0" r="2.35" fill="#d9f3a0" opacity="0.55"/><circle cx="865.3" cy="188.0" r="1.35" fill="#fcfff4"/><circle cx="891.5" cy="194.6" r="2.35" fill="#d9f3a0" opacity="0.55"/><circle cx="891.5" cy="194.6" r="1.35" fill="#fcfff4"/><circle cx="826.6" cy="188.3" r="2.35" fill="#d9f3a0" opacity="0.55"/><circle cx="826.6" cy="188.3" r="1.35" fill="#fcfff4"/><circle cx="848.9" cy="194.0" r="2.35" fill="#d9f3a0" opacity="0.55"/><circle cx="848.9" cy="194.0" r="1.35" fill="#fcfff4"/><circle cx="871.2" cy="199.6" r="2.35" fill="#d9f3a0" opacity="0.55"/><circle cx="871.2" cy="199.6" r="1.35" fill="#fcfff4"/><circle cx="893.5" cy="205.2" r="2.35" fill="#d9f3a0" opacity="0.55"/><circle cx="893.5" cy="205.2" r="1.35" fill="#fcfff4"/><circle cx="812.0" cy="196.0" r="2.35" fill="#d9f3a0" opacity="0.55"/><circle cx="812.0" cy="196.0" r="1.35" fill="#fcfff4"/><circle cx="831.0" cy="200.8" r="2.35" fill="#d9f3a0" opacity="0.55"/><circle cx="831.0" cy="200.8" r="1.35" fill="#fcfff4"/><circle cx="850.0" cy="205.6" r="2.35" fill="#d9f3a0" opacity="0.55"/><circle cx="850.0" cy="205.6" r="1.35" fill="#fcfff4"/><circle cx="869.0" cy="210.4" r="2.35" fill="#d9f3a0" opacity="0.55"/><circle cx="869.0" cy="210.4" r="1.35" fill="#fcfff4"/><circle cx="888.0" cy="215.2" r="2.35" fill="#d9f3a0" opacity="0.55"/><circle cx="888.0" cy="215.2" r="1.35" fill="#fcfff4"/><circle cx="819.8" cy="208.1" r="2.35" fill="#d9f3a0" opacity="0.55"/><circle cx="819.8" cy="208.1" r="1.35" fill="#fcfff4"/><circle cx="836.3" cy="212.3" r="2.35" fill="#d9f3a0" opacity="0.55"/><circle cx="836.3" cy="212.3" r="1.35" fill="#fcfff4"/><circle cx="852.7" cy="216.4" r="2.35" fill="#d9f3a0" opacity="0.55"/><circle cx="852.7" cy="216.4" r="1.35" fill="#fcfff4"/><circle cx="869.2" cy="220.6" r="2.35" fill="#d9f3a0" opacity="0.55"/><circle cx="869.2" cy="220.6" r="1.35" fill="#fcfff4"/><circle cx="885.7" cy="224.8" r="2.35" fill="#d9f3a0" opacity="0.55"/><circle cx="885.7" cy="224.8" r="1.35" fill="#fcfff4"/><circle cx="811.0" cy="217.3" r="2.35" fill="#d9f3a0" opacity="0.55"/><circle cx="811.0" cy="217.3" r="1.35" fill="#fcfff4"/><circle cx="824.8" cy="220.7" r="2.35" fill="#d9f3a0" opacity="0.55"/><circle cx="824.8" cy="220.7" r="1.35" fill="#fcfff4"/><circle cx="838.5" cy="224.2" r="2.35" fill="#d9f3a0" opacity="0.55"/><circle cx="838.5" cy="224.2" r="1.35" fill="#fcfff4"/><circle cx="852.3" cy="227.7" r="2.35" fill="#d9f3a0" opacity="0.55"/><circle cx="852.3" cy="227.7" r="1.35" fill="#fcfff4"/><circle cx="866.0" cy="231.2" r="2.35" fill="#d9f3a0" opacity="0.55"/><circle cx="866.0" cy="231.2" r="1.35" fill="#fcfff4"/><circle cx="879.8" cy="234.7" r="2.35" fill="#d9f3a0" opacity="0.55"/><circle cx="879.8" cy="234.7" r="1.35" fill="#fcfff4"/><circle cx="893.6" cy="238.2" r="2.35" fill="#d9f3a0" opacity="0.55"/><circle cx="893.6" cy="238.2" r="1.35" fill="#fcfff4"/><circle cx="816.0" cy="228.6" r="2.35" fill="#d9f3a0" opacity="0.55"/><circle cx="816.0" cy="228.6" r="1.35" fill="#fcfff4"/><circle cx="827.6" cy="231.6" r="2.35" fill="#d9f3a0" opacity="0.55"/><circle cx="827.6" cy="231.6" r="1.35" fill="#fcfff4"/><circle cx="839.3" cy="234.5" r="2.35" fill="#d9f3a0" opacity="0.55"/><circle cx="839.3" cy="234.5" r="1.35" fill="#fcfff4"/><circle cx="850.9" cy="237.5" r="2.35" fill="#d9f3a0" opacity="0.55"/><circle cx="850.9" cy="237.5" r="1.35" fill="#fcfff4"/><circle cx="862.5" cy="240.4" r="2.35" fill="#d9f3a0" opacity="0.55"/><circle cx="862.5" cy="240.4" r="1.35" fill="#fcfff4"/><circle cx="874.1" cy="243.3" r="2.35" fill="#d9f3a0" opacity="0.55"/><circle cx="874.1" cy="243.3" r="1.35" fill="#fcfff4"/><circle cx="885.8" cy="246.3" r="2.35" fill="#d9f3a0" opacity="0.55"/><circle cx="885.8" cy="246.3" r="1.35" fill="#fcfff4"/><circle cx="897.4" cy="249.2" r="2.35" fill="#d9f3a0" opacity="0.55"/><circle cx="897.4" cy="249.2" r="1.35" fill="#fcfff4"/><circle cx="806.0" cy="236.5" r="2.35" fill="#d9f3a0" opacity="0.55"/><circle cx="806.0" cy="236.5" r="1.35" fill="#fcfff4"/><circle cx="815.7" cy="239.0" r="2.35" fill="#d9f3a0" opacity="0.55"/><circle cx="815.7" cy="239.0" r="1.35" fill="#fcfff4"/><circle cx="825.4" cy="241.4" r="2.35" fill="#d9f3a0" opacity="0.55"/><circle cx="825.4" cy="241.4" r="1.35" fill="#fcfff4"/><circle cx="835.1" cy="243.9" r="2.35" fill="#d9f3a0" opacity="0.55"/><circle cx="835.1" cy="243.9" r="1.35" fill="#fcfff4"/><circle cx="844.8" cy="246.3" r="2.35" fill="#d9f3a0" opacity="0.55"/><circle cx="844.8" cy="246.3" r="1.35" fill="#fcfff4"/><circle cx="854.5" cy="248.8" r="2.35" fill="#d9f3a0" opacity="0.55"/><circle cx="854.5" cy="248.8" r="1.35" fill="#fcfff4"/><circle cx="864.1" cy="251.2" r="2.35" fill="#d9f3a0" opacity="0.55"/><circle cx="864.1" cy="251.2" r="1.35" fill="#fcfff4"/><circle cx="873.8" cy="253.7" r="2.35" fill="#d9f3a0" opacity="0.55"/><circle cx="873.8" cy="253.7" r="1.35" fill="#fcfff4"/><circle cx="883.5" cy="256.1" r="2.35" fill="#d9f3a0" opacity="0.55"/><circle cx="883.5" cy="256.1" r="1.35" fill="#fcfff4"/><circle cx="893.2" cy="258.6" r="2.35" fill="#d9f3a0" opacity="0.55"/><circle cx="893.2" cy="258.6" r="1.35" fill="#fcfff4"/><circle cx="908.2" cy="235.0" r="2.35" fill="#d9f3a0" opacity="0.55"/><circle cx="908.2" cy="235.0" r="1.35" fill="#fcfff4"/><circle cx="908.2" cy="257.2" r="2.35" fill="#d9f3a0" opacity="0.55"/><circle cx="908.2" cy="257.2" r="1.35" fill="#fcfff4"/><circle cx="802.6" cy="221.2" r="2.35" fill="#d9f3a0" opacity="0.55"/><circle cx="802.6" cy="221.2" r="1.35" fill="#fcfff4"/><circle cx="908.2" cy="213.8" r="2.35" fill="#d9f3a0" opacity="0.55"/><circle cx="908.2" cy="213.8" r="1.35" fill="#fcfff4"/><circle cx="797.1" cy="234.2" r="2.25" fill="#d9f3a0" opacity="0.55"/><circle cx="797.1" cy="234.2" r="1.25" fill="#fcfff4"/><circle cx="790.4" cy="232.6" r="2.25" fill="#d9f3a0" opacity="0.55"/><circle cx="790.4" cy="232.6" r="1.25" fill="#fcfff4"/><circle cx="784.1" cy="229.9" r="2.25" fill="#d9f3a0" opacity="0.55"/><circle cx="784.1" cy="229.9" r="1.25" fill="#fcfff4"/><circle cx="779.6" cy="224.8" r="2.25" fill="#d9f3a0" opacity="0.55"/><circle cx="779.6" cy="224.8" r="1.25" fill="#fcfff4"/><circle cx="778.4" cy="218.0" r="2.25" fill="#d9f3a0" opacity="0.55"/><circle cx="778.4" cy="218.0" r="1.25" fill="#fcfff4"/><circle cx="778.4" cy="211.1" r="2.25" fill="#d9f3a0" opacity="0.55"/><circle cx="778.4" cy="211.1" r="1.25" fill="#fcfff4"/><circle cx="778.4" cy="204.2" r="2.25" fill="#d9f3a0" opacity="0.55"/><circle cx="778.4" cy="204.2" r="1.25" fill="#fcfff4"/><circle cx="778.4" cy="197.3" r="2.25" fill="#d9f3a0" opacity="0.55"/><circle cx="778.4" cy="197.3" r="1.25" fill="#fcfff4"/><circle cx="778.4" cy="190.4" r="2.25" fill="#d9f3a0" opacity="0.55"/><circle cx="778.4" cy="190.4" r="1.25" fill="#fcfff4"/><circle cx="778.4" cy="183.5" r="2.25" fill="#d9f3a0" opacity="0.55"/><circle cx="778.4" cy="183.5" r="1.25" fill="#fcfff4"/><circle cx="778.3" cy="176.6" r="2.25" fill="#d9f3a0" opacity="0.55"/><circle cx="778.3" cy="176.6" r="1.25" fill="#fcfff4"/><circle cx="776.0" cy="170.2" r="2.25" fill="#d9f3a0" opacity="0.55"/><circle cx="776.0" cy="170.2" r="1.25" fill="#fcfff4"/><circle cx="770.5" cy="166.2" r="2.25" fill="#d9f3a0" opacity="0.55"/><circle cx="770.5" cy="166.2" r="1.25" fill="#fcfff4"/><circle cx="763.9" cy="164.5" r="2.25" fill="#d9f3a0" opacity="0.55"/><circle cx="763.9" cy="164.5" r="1.25" fill="#fcfff4"/>
<path d="M760,253.2 L790,260.6 L784,291.6 L754,284 Z" fill="url(#bneck)" stroke="#0c0c0c" stroke-width="1.1" stroke-linejoin="round" /><path d="M727.3,239.5 L765.0,249.7 A3.4,19.2 14 0 1 756.6,286.6 L718.2,277 A7.2,19.4 14 0 1 727.3,239.5 Z" fill="url(#bl1)" stroke="#0c0c0c" stroke-width="1.4" stroke-linejoin="round" /><path d="M727.3,239.5 L765.0,249.7 A3.4,19.2 14 0 1 756.6,286.6 L718.2,277 A7.2,19.4 14 0 1 727.3,239.5 Z" fill="url(#blend)" stroke="none" stroke-width="0" stroke-linejoin="round" /><path d="M727.3,239.5 L765.0,249.7 A3.4,19.2 14 0 1 756.6,286.6 L718.2,277 A7.2,19.4 14 0 1 727.3,239.5 Z" fill="url(#blend2)" stroke="none" stroke-width="0" stroke-linejoin="round" /><path d="M786.6,254.9 L836.5,266.4 A11.8,19.8 12.5 0 1 827.8,305 L778.6,293.3 A3.6,19.6 12.5 0 1 786.6,254.9 Z" fill="url(#bl2)" stroke="#0c0c0c" stroke-width="1.4" stroke-linejoin="round" /><path d="M786.6,254.9 L836.5,266.4 A11.8,19.8 12.5 0 1 827.8,305 L778.6,293.3 A3.6,19.6 12.5 0 1 786.6,254.9 Z" fill="url(#blend3)" stroke="none" stroke-width="0" stroke-linejoin="round" /><polygon points="756.8,290.4 764.6,285.2 780.2,289.2 775.4,296.2 764.6,295.8" fill="#a6a6a6" stroke="#0c0c0c" stroke-width="1.1" stroke-linejoin="round" /><ellipse cx="769.6" cy="289.6" rx="2.5" ry="1.6" fill="#4c4c4c" stroke="#0c0c0c" stroke-width="0.8"/><path d="M772.4,251.8 Q765.0,267 767.4,287.6 L775.6,289.8 Q773.2,269 780.6,254.0 Q776.6,251.4 772.4,251.8 Z" fill="url(#bband)" stroke="#0c0c0c" stroke-width="1.1" stroke-linejoin="round" /><path d="M776.6,252.4 Q769.2,268 771.6,288.8" fill="none" stroke="#2a2a2a" stroke-width="0.8" stroke-linejoin="round" /><ellipse cx="832.2" cy="285.7" rx="11.8" ry="19.8" transform="rotate(12.5 832.2 285.7)" fill="#8e8e8e" stroke="#0c0c0c" stroke-width="1.4"/><ellipse cx="831.9" cy="285.8" rx="10.0" ry="17.6" transform="rotate(12.5 831.9 285.8)" fill="url(#bopen)" stroke="#0c0c0c" stroke-width="0.9"/><path d="M832.0,273.4 L826.0,296.7" stroke="#222" stroke-width="0.8" opacity="0.7"/><path d="M834.9,272.1 L828.9,298.2" stroke="#222" stroke-width="0.8" opacity="0.7"/><path d="M837.8,272.1 L831.8,299.7" stroke="#222" stroke-width="0.8" opacity="0.7"/><path d="M840.7,273.4 L834.7,298.8" stroke="#222" stroke-width="0.8" opacity="0.7"/><path d="M843.6,274.8 L837.6,297.3" stroke="#222" stroke-width="0.8" opacity="0.7"/>
<path d="M661.6,305.8 C678,303.5 695,298.5 706.2,289.4 L699.3,286.9 L738.4,276.6 L733.6,297.2 L723.3,294 C716,301.5 711.5,310 710.3,319.8 Z" transform="translate(0 0)" fill="url(#ra1)"/>
<path d="M661.6,305.8 C678,303.5 695,298.5 706.2,289.4 L699.3,286.9 L738.4,276.6 L733.6,297.2 L723.3,294 C716,301.5 711.5,310 710.3,319.8 Z" transform="translate(61.6 17.2)" fill="url(#ra2)"/>
<path d="M208,600.7 L239.3,582.7 C246,586 254,587.5 262,586.6 C269.5,585.6 275,583.8 278.7,581.3 L268.7,576.3 L318.7,564.4 L314,591.7 L299.3,586.7 C291,595 281,601.5 270,605.3 C258,609.5 248,611 240,610.5 C228,609.6 217,606 208,600.7 Z" fill="url(#cy1)" stroke="none" stroke-width="0" stroke-linejoin="round" />
<polygon points="486,248.6 492.2,238.4 499.5,239.2 523,226.3 530.1,228.5 507.5,241.8 511.4,243.6" fill="#000"/>
<polygon points="587.4,247.7 563.4,253.2 569.2,255.2 543.8,267.5 550.4,270.1 575.8,257.6 581.2,258.9" fill="#000"/>
<polygon points="482.7,398.7 457.2,398.1 461.4,395.2 434.6,384.9 439.2,379.6 467.9,391.2 472,388" fill="#000"/>
<polygon points="534.9,546.2 527.5,564 531.1,564 531.1,593.1 538.7,593.1 538.7,564 542.3,564" fill="#000"/>
<rect x="12.5" y="29.5" width="340" height="60" fill="#ffc000" stroke="#000" stroke-width="1"/>
<polygon points="157.5,204 191.8,204 222.6,271.6" fill="#00aeef"/><rect x="83" y="162.3" width="130.0" height="42.5" rx="6.5" ry="6.5" fill="#00aeef"/>
<polygon points="144.8,379 184.1,379 357.3,448.1" fill="#00aeef"/><rect x="61" y="337.5" width="146.4" height="42.2" rx="6.5" ry="6.5" fill="#00aeef"/>
<polygon points="478.2,118 520.3,118 576.4,189.4" fill="#00aeef"/><rect x="376.4" y="76" width="173.0" height="42.8" rx="6.5" ry="6.5" fill="#00aeef"/>
<polygon points="688.8,62 728.2,62 742.9,131.8" fill="#00aeef"/><rect x="603.8" y="19.9" width="145.9" height="42.8" rx="6.5" ry="6.5" fill="#00aeef"/>
<polygon points="841.5,62 870.4,62 839.1,189.4" fill="#00aeef"/><rect x="820.5" y="19.9" width="119.6" height="42.6" rx="6.5" ry="6.5" fill="#00aeef"/>
<polygon points="919.6,349 952.8,349 833,285" fill="#00aeef"/><rect x="896.9" y="348" width="126.1" height="42.5" rx="6.5" ry="6.5" fill="#00aeef"/>
<polygon points="768,405 808.2,405 501,267" fill="#00aeef"/><rect x="737.2" y="404.3" width="171.0" height="42.6" rx="6.5" ry="6.5" fill="#00aeef"/>
<polygon points="730,557 770.3,557 601,487.4" fill="#00aeef"/><rect x="701.6" y="556" width="173.9" height="42.6" rx="6.5" ry="6.5" fill="#00aeef"/>
<rect x="1003" y="90.4" width="124.4" height="229.6" fill="#b7dee8"/>
<rect x="16.3" y="456.5" width="164.1" height="198.6" fill="#93cddd"/></svg>
<div class="t" style="left:36.5px;top:29.5px;width:300.0px;height:60.0px;font-size:29.9px;line-height:60.00px;text-align:left;color:#000">2、空调系统件分布图</div><div class="t" style="left:83.0px;top:162.3px;width:130.0px;height:42.5px;font-size:24px;line-height:42.50px;text-align:center;color:#fff">压缩机</div><div class="t" style="left:61.0px;top:337.5px;width:146.4px;height:42.2px;font-size:24px;line-height:42.20px;text-align:center;color:#fff">冷凝器</div><div class="t" style="left:376.4px;top:76.0px;width:173.0px;height:42.8px;font-size:24px;line-height:42.80px;text-align:center;color:#fff">低压侧管路</div><div class="t" style="left:603.8px;top:19.9px;width:145.9px;height:42.8px;font-size:24px;line-height:42.80px;text-align:center;color:#fff">膨胀阀</div><div class="t" style="left:820.5px;top:19.9px;width:119.6px;height:42.6px;font-size:24px;line-height:42.60px;text-align:center;color:#fff">蒸发器</div><div class="t" style="left:896.9px;top:348.0px;width:126.1px;height:42.5px;font-size:24px;line-height:42.50px;text-align:center;color:#fff">鼓风机</div><div class="t" style="left:737.2px;top:404.3px;width:171.0px;height:42.6px;font-size:24px;line-height:42.60px;text-align:center;color:#fff">高压侧管路</div><div class="t" style="left:701.6px;top:556.0px;width:173.9px;height:42.6px;font-size:24px;line-height:42.60px;text-align:center;color:#fff">储液干燥器</div><div class="t" style="left:1011.8px;top:97.7px;width:115.6px;height:208.2px;font-size:24px;line-height:29.75px;text-align:left;color:#000">来自空调<br>鼓风机的<br>风量，将<br>系统释放<br>的制冷量<br>带到驾驶<br>室中。</div><div class="t" style="left:23.2px;top:462.5px;width:157.2px;height:176.4px;font-size:24px;line-height:29.40px;text-align:left;color:#000">来自冷却风扇<br>或行驶的迎面<br>风量，将系统<br>吸收的热量散<br>发到周围环境<br>中。</div>
</body></html>
